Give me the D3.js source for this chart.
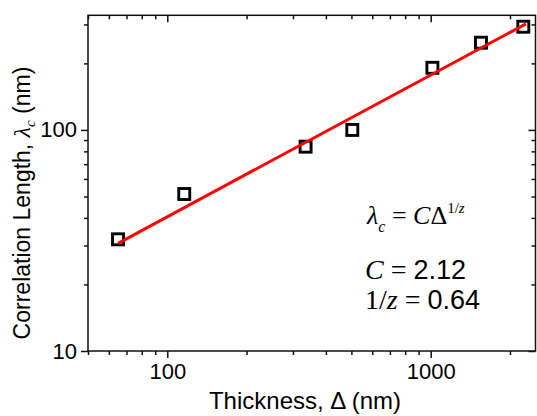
<!DOCTYPE html>
<html>
<head>
<meta charset="utf-8">
<script src="https://cdn.jsdelivr.net/npm/d3@7"></script>
<style>
  html, body { margin: 0; padding: 0; background: #fff; }
  svg { display: block; font-family: 'Liberation Sans', Arial, sans-serif; }
  .serif { font-family: 'Liberation Serif', 'Times New Roman', serif; }
</style>
</head>
<body>
<svg id="chart" width="537" height="416"></svg>
<script>
// measured points (thickness in nm, correlation length in nm)
const thickness = [65, 116, 335, 504, 1015, 1552, 2247];
const corrLength = [32.0, 51.3, 84.0, 100, 191, 248, 293];

// power-law fit end points
const fitThickness = [65, 2300];
const fitLength = [30.7, 302];

const xMajor = [100, 1000];
const xMinor = [50, 60, 70, 80, 90, 200, 300, 400, 500, 600, 700, 800, 900, 2000];
const yMajor = [10, 100];
const yMinor = [20, 30, 40, 50, 60, 70, 80, 90, 200, 300];

const W = 537, H = 416;
const pLeft = 88, pRight = 535.5, pTop = 15.3, pBottom = 351;

const svg = d3.select('#chart');

const x = d3.scaleLog().domain([50, 2500]).range([pLeft, pRight]);
const y = d3.scaleLog().domain([10, 330]).range([pBottom, pTop]);

// axes: bottom/left ticks point outwards, top/right ones inwards
function styleAxis(g){
  g.select('.domain').remove();
  g.selectAll('.tick line').attr('stroke', '#111').attr('stroke-width', 1.5);
  g.selectAll('.tick text').attr('fill', '#000').style('font-size', '22px');
}

svg.append('g').attr('transform', `translate(0,${pBottom})`)
  .call(d3.axisBottom(x).tickValues(xMinor).tickSize(4).tickFormat('')).call(styleAxis);
svg.append('g').attr('transform', `translate(0,${pBottom})`)
  .call(d3.axisBottom(x).tickValues(xMajor).tickSize(7).tickPadding(5).tickFormat(d3.format('d'))).call(styleAxis);
svg.append('g').attr('transform', `translate(0,${pTop})`)
  .call(d3.axisTop(x).tickValues(xMinor).tickSize(-4).tickFormat('')).call(styleAxis);
svg.append('g').attr('transform', `translate(0,${pTop})`)
  .call(d3.axisTop(x).tickValues(xMajor).tickSize(-7).tickFormat('')).call(styleAxis);

svg.append('g').attr('transform', `translate(${pLeft},0)`)
  .call(d3.axisLeft(y).tickValues(yMinor).tickSize(4).tickFormat('')).call(styleAxis);
svg.append('g').attr('transform', `translate(${pLeft},0)`)
  .call(d3.axisLeft(y).tickValues(yMajor).tickSize(7).tickPadding(4).tickFormat(d3.format('d'))).call(styleAxis);
svg.append('g').attr('transform', `translate(${pRight},0)`)
  .call(d3.axisRight(y).tickValues(yMinor).tickSize(-4).tickFormat('')).call(styleAxis);
svg.append('g').attr('transform', `translate(${pRight},0)`)
  .call(d3.axisRight(y).tickValues(yMajor).tickSize(-7).tickFormat('')).call(styleAxis);

// frame
svg.append('rect').attr('x', pLeft).attr('y', pTop)
  .attr('width', pRight - pLeft).attr('height', pBottom - pTop)
  .attr('fill', 'none').attr('stroke', '#111').attr('stroke-width', 1.5);

// squares
const pts = thickness.map((t, i) => ({t, l: corrLength[i]}));
const s = 11;
svg.append('g').selectAll('rect').data(pts).enter().append('rect')
  .attr('x', d => x(d.t) - s/2).attr('y', d => y(d.l) - s/2)
  .attr('width', s).attr('height', s)
  .attr('fill', 'none').attr('stroke', '#000').attr('stroke-width', 2.9);

// fit line
const fit = fitThickness.map((t, i) => [t, fitLength[i]]);
svg.append('path').datum(fit)
  .attr('d', d3.line().x(d => x(d[0])).y(d => y(d[1])))
  .attr('fill', 'none').attr('stroke', '#ff0000').attr('stroke-width', 3);

// axis titles
svg.append('text').attr('x', 305).attr('y', 409)
  .attr('text-anchor', 'middle').style('font-size', '24px')
  .text('Thickness, \u0394 (nm)');

const yt = svg.append('text')
  .attr('transform', `translate(30,203) rotate(-90)`)
  .attr('text-anchor', 'middle').style('font-size', '23px');
yt.append('tspan').text('Correlation Length, ');
yt.append('tspan').attr('class', 'serif').style('font-style', 'italic').style('font-size', '24px').text('\u03bb');
yt.append('tspan').attr('class', 'serif').style('font-style', 'italic').style('font-size', '15px').attr('dy', 5).text('c');
yt.append('tspan').attr('dy', -5).text(' (nm)');

// annotation
const a1 = svg.append('text').attr('class', 'serif').attr('x', 367).attr('y', 224).style('font-size', '26px');
a1.append('tspan').style('font-style', 'italic').text('\u03bb');
a1.append('tspan').style('font-style', 'italic').style('font-size', '16px').attr('dy', 8).text('c');
a1.append('tspan').attr('dy', -8).text(' = ');
a1.append('tspan').style('font-style', 'italic').text('C');
a1.append('tspan').text('\u0394');
a1.append('tspan').style('font-size', '15px').attr('dy', -11).text('1/');
a1.append('tspan').style('font-size', '15px').style('font-style', 'italic').text('z');

const a2 = svg.append('text').attr('class', 'serif').attr('x', 365).attr('y', 279).style('font-size', '28px');
a2.append('tspan').style('font-style', 'italic').text('C');
a2.append('tspan').text(' = ');
a2.append('tspan').style('font-family', "'Liberation Sans', Arial, sans-serif").style('font-size', '27px').text('2.12');

const a3 = svg.append('text').attr('class', 'serif').attr('x', 365).attr('y', 309).style('font-size', '28px');
a3.append('tspan').text('1/');
a3.append('tspan').style('font-style', 'italic').text('z');
a3.append('tspan').text(' = ');
a3.append('tspan').style('font-family', "'Liberation Sans', Arial, sans-serif").style('font-size', '27px').text('0.64');
</script>
</body>
</html>
